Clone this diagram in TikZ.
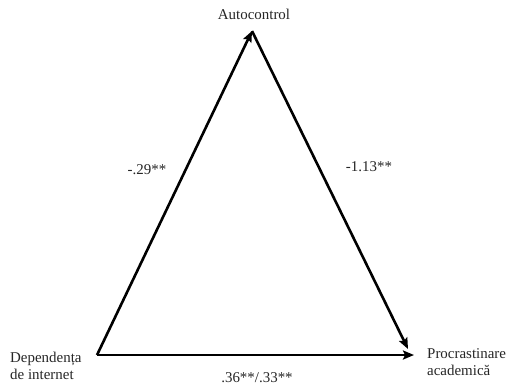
\documentclass[tikz,border=0pt]{standalone}
\usepackage{fontspec}
\setmainfont{Liberation Serif}
\usetikzlibrary{arrows.meta}
\begin{document}
\begin{tikzpicture}[x=1bp,y=-1bp,
  lbl/.style={inner sep=0pt,font=\fontsize{15}{16.5}\selectfont,text=black!85},
  edge/.style={line width=2.6bp,-{Stealth[length=11bp,width=9bp,inset=2bp]}}]
\useasboundingbox[fill=white] (0,0) rectangle (509,387);
\coordinate (apex) at (252,31);
\coordinate (bl) at (97,355);
\coordinate (br) at (414,355);
\coordinate (rt) at (408,349);
\node[lbl] (auto) at (254,14) {Autocontrol};
\node[lbl,anchor=west,align=left] (dep) at (10,366) {Dependența\\de internet};
\node[lbl,anchor=west,align=left] (proc) at (427,362) {Procrastinare\\academică};
\node[lbl] (a) at (147,170) {-.29**};
\node[lbl] (b) at (369,167) {-1.13**};
\node[lbl] (c) at (257,378) {.36**/.33**};
\draw[edge] (bl) -- (apex);
\draw[edge] (apex) -- (rt);
\draw[edge] (bl) -- (br);
\end{tikzpicture}
\end{document}
